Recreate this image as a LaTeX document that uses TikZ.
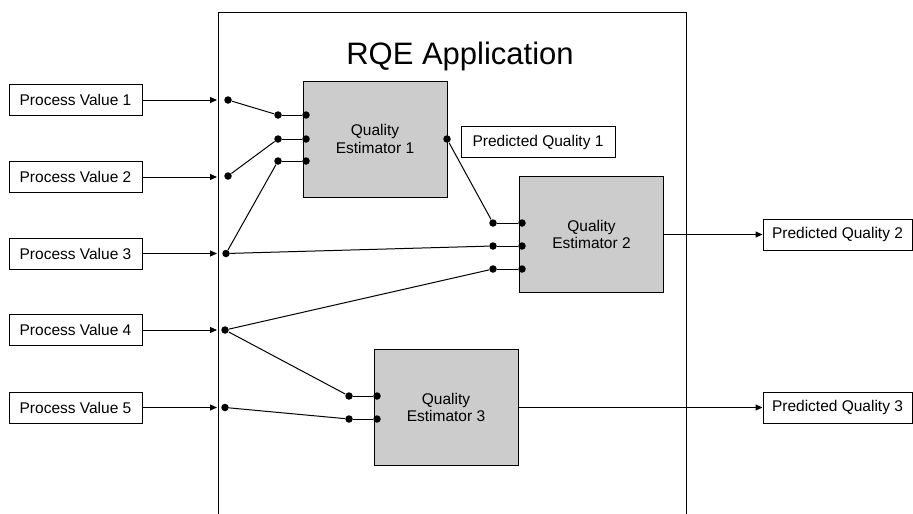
\documentclass[tikz,border=0pt]{standalone}
\usepackage{fontspec}
\setmainfont{Liberation Sans}
\usetikzlibrary{arrows.meta}
\definecolor{qegray}{HTML}{CCCCCC}
\begin{document}
\begin{tikzpicture}[x=1pt,y=-1pt,
  line width=1pt,
  txt/.style={font=\fontsize{15.5}{17.5}\selectfont},
  iobox/.style={draw, fill=white, txt, minimum height=31pt, inner sep=0pt},
  pvbox/.style={iobox, minimum width=133pt},
  pqbox/.style={iobox, minimum width=149pt},
  qebox/.style={draw, fill=qegray, txt, align=center, minimum width=144pt, minimum height=116pt, inner sep=0pt},
  dot/.style={circle, fill=black, inner sep=0pt, minimum size=7.5pt},
  feed/.style={-{Triangle[length=7pt,width=6pt]}}
]
\useasboundingbox (0,0) rectangle (913,514);
% application frame
\draw (218,514) -- (218,12) -- (686,12) -- (686,514);
\node[anchor=base, font=\fontsize{31}{36}\selectfont] (title) at (460,64) {RQE Application};

% process values
\node[pvbox] (pv1) at (75.5,100) {Process Value 1};
\node[pvbox] (pv2) at (75.5,177) {Process Value 2};
\node[pvbox] (pv3) at (75.5,253.5) {Process Value 3};
\node[pvbox] (pv4) at (75.5,330) {Process Value 4};
\node[pvbox] (pv5) at (75.5,407.5) {Process Value 5};

\coordinate (e1) at (217,100);
\coordinate (e2) at (217,177);
\coordinate (e3) at (217,253.5);
\coordinate (e4) at (217,330);
\coordinate (e5) at (217,407.5);
\draw[feed] (pv1.east) -- (e1);
\draw[feed] (pv2.east) -- (e2);
\draw[feed] (pv3.east) -- (e3);
\draw[feed] (pv4.east) -- (e4);
\draw[feed] (pv5.east) -- (e5);

% estimators
\node[qebox] (qe1) at (375,139) {Quality\\Estimator 1};
\node[qebox] (qe2) at (591.5,234.5) {Quality\\Estimator 2};
\node[qebox] (qe3) at (446,407.5) {Quality\\Estimator 3};

% predicted quality boxes
\node[iobox, minimum width=154pt] (pq1) at (538,142) {Predicted Quality 1};
\node[pqbox] (pq2) at (837.5,234.5) {Predicted Quality 2};
\node[pqbox] (pq3) at (837.5,407.5) {Predicted Quality 3};

% dots
\node[dot] (d1) at (228,100) {};
\node[dot] (d2) at (228,176) {};
\node[dot] (d3) at (226,253.5) {};
\node[dot] (d4) at (225,330) {};
\node[dot] (d5) at (225,407.5) {};

\node[dot] (a1) at (278,115) {};
\node[dot] (a2) at (278,139) {};
\node[dot] (a3) at (278,161) {};
\node[dot] (p1) at (306,115) {};
\node[dot] (p2) at (306,139) {};
\node[dot] (p3) at (306,161) {};
\node[dot] (o1) at (447,139) {};

\node[dot] (b1) at (493,223) {};
\node[dot] (b2) at (493,246) {};
\node[dot] (b3) at (493,269) {};
\node[dot] (q1) at (522,223) {};
\node[dot] (q2) at (522,246) {};
\node[dot] (q3) at (522,269) {};

\node[dot] (c1) at (349,396) {};
\node[dot] (c2) at (349,419) {};
\node[dot] (r1) at (377,396) {};
\node[dot] (r2) at (377,419) {};

% wiring
\draw (d1) -- (a1);
\draw (d2) -- (a2);
\draw (d3) -- (a3);
\draw (a1) -- (p1);
\draw (a2) -- (p2);
\draw (a3) -- (p3);

\draw (o1) -- (b1);
\draw (d3) -- (b2);
\draw (d4) -- (b3);
\draw (b1) -- (q1);
\draw (b2) -- (q2);
\draw (b3) -- (q3);

\draw (d4) -- (c1);
\draw (d5) -- (c2);
\draw (c1) -- (r1);
\draw (c2) -- (r2);

% outputs
\draw[feed] (qe2.east) -- (pq2.west);
\draw[feed] (qe3.east) -- (pq3.west);
\end{tikzpicture}
\end{document}
